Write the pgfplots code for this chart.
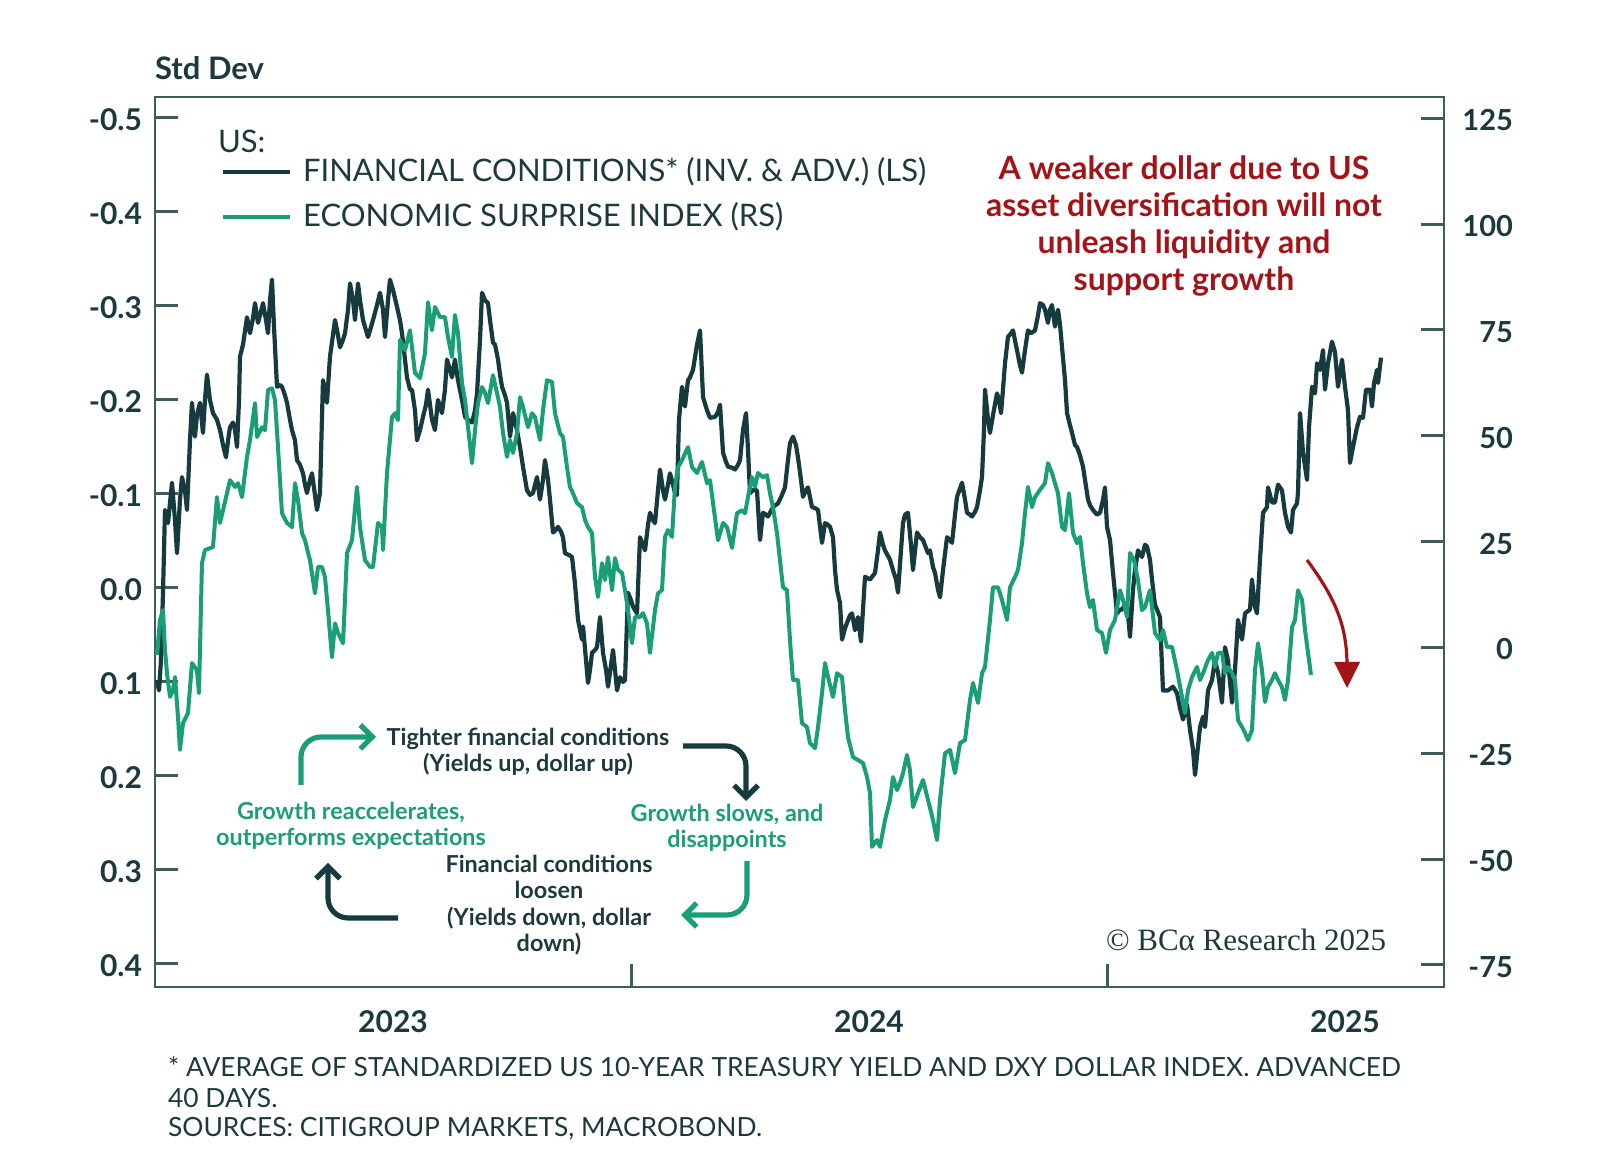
\documentclass[border=0pt]{standalone}
\usepackage{pgfplots}
\pgfplotsset{compat=1.18}
\usepackage{fontspec}
\setmainfont{Lato}
\newfontfamily\copyfont{Liberation Serif}
\usetikzlibrary{arrows.meta}

\definecolor{fcdark}{HTML}{163A3E}
\definecolor{esigreen}{HTML}{1A9E78}
\definecolor{bcared}{HTML}{A31419}
\definecolor{axiscol}{HTML}{3E5C5E}
\definecolor{txtdark}{HTML}{1C3A3D}

\begin{document}
\begin{tikzpicture}
\path[use as bounding box] (0,0) rectangle (800pt,577.5pt);

% left axis: financial conditions (inverted), frame, years
\begin{axis}[
  at={(77.5pt,84pt)}, anchor=south west,
  width=644.5pt, height=445pt, scale only axis,
  xmin=2023, xmax=2025.708,
  y dir=reverse, ymin=-0.5223, ymax=0.4245,
  ytick={-0.5,-0.4,-0.3,-0.2,-0.1,0,0.1,0.2,0.3,0.4},
  yticklabels={-0.5,-0.4,-0.3,-0.2,-0.1,0.0,0.1,0.2,0.3,0.4},
  xtick={2024,2025}, xticklabels={{},{}},
  extra x ticks={2023.5,2024.5,2025.5},
  extra x tick labels={2023,2024,2025},
  extra x tick style={major tick length=0pt},
  ytick pos=left, xtick pos=left, tick align=inside,
  major tick length=11.5pt,
  axis line style={draw=axiscol, line width=1.2pt},
  tick style={draw=axiscol, line width=1.5pt},
  yticklabel style={font=\fontsize{15}{17}\selectfont\bfseries, text=txtdark, xshift=-3pt, yshift=-1pt},
  xticklabel style={font=\fontsize{15}{17}\selectfont\bfseries, text=txtdark, yshift=-8pt},
]
\addplot[fcdark, line width=2.1pt, line join=round] coordinates {
(2023.0042,0.098)(2023.0084,0.109)(2023.0126,0.077)(2023.0168,0.005)(2023.0210,-0.083)(2023.0273,-0.069)(2023.0357,-0.112)(2023.0420,-0.072)(2023.0462,-0.037)(2023.0525,-0.094)(2023.0567,-0.118)(2023.0630,-0.104)(2023.0672,-0.083)(2023.0735,-0.157)(2023.0777,-0.197)(2023.0840,-0.161)(2023.0882,-0.184)(2023.0945,-0.197)(2023.1008,-0.165)(2023.1050,-0.200)(2023.1092,-0.227)(2023.1155,-0.200)(2023.1218,-0.186)(2023.1302,-0.179)(2023.1366,-0.168)(2023.1429,-0.152)(2023.1492,-0.139)(2023.1534,-0.157)(2023.1576,-0.171)(2023.1639,-0.176)(2023.1681,-0.168)(2023.1723,-0.150)(2023.1765,-0.200)(2023.1786,-0.246)(2023.1849,-0.259)(2023.1933,-0.288)(2023.1996,-0.271)(2023.2059,-0.287)(2023.2101,-0.303)(2023.2164,-0.282)(2023.2206,-0.290)(2023.2269,-0.303)(2023.2332,-0.285)(2023.2374,-0.271)(2023.2416,-0.306)(2023.2458,-0.328)(2023.2500,-0.278)(2023.2563,-0.214)(2023.2626,-0.216)(2023.2668,-0.214)(2023.2731,-0.205)(2023.2773,-0.197)(2023.2836,-0.179)(2023.2878,-0.168)(2023.2941,-0.157)(2023.2983,-0.136)(2023.3046,-0.131)(2023.3109,-0.122)(2023.3151,-0.110)(2023.3193,-0.101)(2023.3256,-0.115)(2023.3298,-0.122)(2023.3361,-0.099)(2023.3403,-0.083)(2023.3466,-0.101)(2023.3529,-0.221)(2023.3571,-0.211)(2023.3613,-0.197)(2023.3676,-0.246)(2023.3739,-0.269)(2023.3781,-0.285)(2023.3844,-0.269)(2023.3886,-0.256)(2023.3950,-0.264)(2023.3992,-0.271)(2023.4055,-0.296)(2023.4097,-0.324)(2023.4160,-0.306)(2023.4202,-0.285)(2023.4265,-0.324)(2023.4307,-0.306)(2023.4370,-0.285)(2023.4433,-0.274)(2023.4475,-0.267)(2023.4517,-0.274)(2023.4580,-0.285)(2023.4664,-0.301)(2023.4727,-0.314)(2023.4790,-0.296)(2023.4832,-0.267)(2023.4895,-0.306)(2023.4937,-0.328)(2023.5000,-0.317)(2023.5084,-0.299)(2023.5147,-0.285)(2023.5189,-0.271)(2023.5252,-0.243)(2023.5294,-0.224)(2023.5357,-0.211)(2023.5399,-0.211)(2023.5462,-0.189)(2023.5504,-0.157)(2023.5567,-0.168)(2023.5630,-0.182)(2023.5693,-0.195)(2023.5735,-0.211)(2023.5819,-0.179)(2023.5882,-0.168)(2023.5945,-0.200)(2023.6029,-0.186)(2023.6092,-0.211)(2023.6134,-0.243)(2023.6197,-0.232)(2023.6239,-0.224)(2023.6302,-0.243)(2023.6365,-0.221)(2023.6450,-0.200)(2023.6513,-0.182)(2023.6576,-0.179)(2023.6660,-0.176)(2023.6723,-0.189)(2023.6765,-0.207)(2023.6828,-0.264)(2023.6870,-0.314)(2023.6933,-0.306)(2023.6996,-0.303)(2023.7038,-0.285)(2023.7101,-0.261)(2023.7143,-0.259)(2023.7206,-0.243)(2023.7248,-0.227)(2023.7290,-0.214)(2023.7353,-0.205)(2023.7395,-0.197)(2023.7458,-0.161)(2023.7521,-0.186)(2023.7605,-0.168)(2023.7668,-0.150)(2023.7731,-0.129)(2023.7815,-0.104)(2023.7878,-0.099)(2023.7941,-0.101)(2023.8025,-0.118)(2023.8088,-0.094)(2023.8151,-0.115)(2023.8193,-0.136)(2023.8256,-0.115)(2023.8298,-0.094)(2023.8361,-0.059)(2023.8424,-0.062)(2023.8466,-0.065)(2023.8529,-0.060)(2023.8571,-0.054)(2023.8613,-0.037)(2023.8697,-0.035)(2023.8760,-0.033)(2023.8823,-0.005)(2023.8887,0.034)(2023.8971,0.055)(2023.8992,0.041)(2023.9055,0.077)(2023.9097,0.101)(2023.9139,0.087)(2023.9181,0.069)(2023.9244,0.066)(2023.9286,0.063)(2023.9349,0.031)(2023.9412,0.069)(2023.9475,0.087)(2023.9517,0.105)(2023.9580,0.082)(2023.9622,0.066)(2023.9664,0.087)(2023.9706,0.109)(2023.9769,0.095)(2023.9832,0.100)(2023.9874,0.098)(2023.9937,0.005)(2024.0000,0.013)(2024.0042,0.020)(2024.0126,0.027)(2024.0189,-0.054)(2024.0252,-0.046)(2024.0294,-0.040)(2024.0357,-0.067)(2024.0399,-0.080)(2024.0462,-0.072)(2024.0504,-0.069)(2024.0567,-0.104)(2024.0609,-0.126)(2024.0672,-0.104)(2024.0714,-0.094)(2024.0777,-0.110)(2024.0819,-0.122)(2024.0882,-0.110)(2024.0924,-0.101)(2024.0966,-0.099)(2024.1008,-0.179)(2024.1071,-0.214)(2024.1134,-0.193)(2024.1197,-0.221)(2024.1239,-0.224)(2024.1303,-0.232)(2024.1387,-0.259)(2024.1450,-0.274)(2024.1513,-0.203)(2024.1597,-0.189)(2024.1660,-0.181)(2024.1765,-0.182)(2024.1828,-0.187)(2024.1870,-0.195)(2024.1933,-0.144)(2024.1996,-0.134)(2024.2038,-0.129)(2024.2122,-0.128)(2024.2185,-0.126)(2024.2248,-0.131)(2024.2290,-0.136)(2024.2353,-0.168)(2024.2416,-0.186)(2024.2458,-0.147)(2024.2500,-0.101)(2024.2563,-0.104)(2024.2647,-0.104)(2024.2710,-0.051)(2024.2773,-0.080)(2024.2836,-0.078)(2024.2878,-0.076)(2024.2983,-0.086)(2024.3088,-0.090)(2024.3172,-0.099)(2024.3235,-0.107)(2024.3298,-0.136)(2024.3340,-0.154)(2024.3403,-0.161)(2024.3466,-0.152)(2024.3508,-0.139)(2024.3571,-0.115)(2024.3613,-0.097)(2024.3676,-0.104)(2024.3718,-0.107)(2024.3803,-0.086)(2024.3866,-0.085)(2024.3929,-0.083)(2024.4013,-0.048)(2024.4076,-0.069)(2024.4139,-0.067)(2024.4181,-0.065)(2024.4244,-0.054)(2024.4286,-0.019)(2024.4328,0.002)(2024.4391,0.016)(2024.4433,0.055)(2024.4496,0.043)(2024.4538,0.037)(2024.4601,0.029)(2024.4643,0.027)(2024.4706,0.045)(2024.4769,0.031)(2024.4832,0.057)(2024.4874,0.023)(2024.4916,-0.012)(2024.5021,-0.009)(2024.5126,-0.016)(2024.5189,-0.040)(2024.5231,-0.059)(2024.5294,-0.046)(2024.5336,-0.040)(2024.5441,-0.030)(2024.5504,-0.019)(2024.5567,-0.009)(2024.5609,0.005)(2024.5672,-0.040)(2024.5714,-0.069)(2024.5756,-0.078)(2024.5819,-0.080)(2024.5882,-0.046)(2024.5924,-0.019)(2024.6008,-0.059)(2024.6071,-0.054)(2024.6134,-0.051)(2024.6239,-0.037)(2024.6281,-0.040)(2024.6345,-0.022)(2024.6387,-0.016)(2024.6450,0.002)(2024.6492,0.010)(2024.6555,-0.019)(2024.6639,-0.054)(2024.6702,-0.051)(2024.6744,-0.048)(2024.6807,-0.078)(2024.6849,-0.097)(2024.6912,-0.106)(2024.6954,-0.112)(2024.7017,-0.094)(2024.7059,-0.080)(2024.7122,-0.078)(2024.7164,-0.076)(2024.7227,-0.081)(2024.7269,-0.086)(2024.7332,-0.104)(2024.7374,-0.118)(2024.7416,-0.168)(2024.7437,-0.211)(2024.7500,-0.179)(2024.7542,-0.165)(2024.7605,-0.184)(2024.7689,-0.207)(2024.7731,-0.200)(2024.7773,-0.186)(2024.7815,-0.211)(2024.7857,-0.239)(2024.7920,-0.267)(2024.7983,-0.271)(2024.8025,-0.274)(2024.8109,-0.253)(2024.8172,-0.237)(2024.8214,-0.229)(2024.8277,-0.253)(2024.8340,-0.274)(2024.8403,-0.271)(2024.8487,-0.274)(2024.8550,-0.290)(2024.8592,-0.303)(2024.8655,-0.301)(2024.8697,-0.296)(2024.8760,-0.282)(2024.8802,-0.296)(2024.8844,-0.301)(2024.8907,-0.278)(2024.8970,-0.296)(2024.9013,-0.280)(2024.9055,-0.256)(2024.9118,-0.221)(2024.9160,-0.186)(2024.9223,-0.173)(2024.9265,-0.165)(2024.9328,-0.152)(2024.9370,-0.150)(2024.9433,-0.141)(2024.9496,-0.129)(2024.9538,-0.115)(2024.9601,-0.094)(2024.9643,-0.088)(2024.9706,-0.083)(2024.9790,-0.078)(2024.9853,-0.080)(2024.9916,-0.094)(2024.9958,-0.107)(2025.0000,-0.065)(2025.0063,-0.051)(2025.0126,-0.016)(2025.0210,0.027)(2025.0273,0.023)(2025.0315,0.023)(2025.0378,0.018)(2025.0420,0.016)(2025.0483,0.052)(2025.0546,0.002)(2025.0588,-0.019)(2025.0651,-0.040)(2025.0735,-0.033)(2025.0798,-0.046)(2025.0840,-0.044)(2025.0903,-0.030)(2025.0945,-0.009)(2025.1008,0.018)(2025.1050,0.023)(2025.1113,0.031)(2025.1176,0.109)(2025.1282,0.109)(2025.1387,0.105)(2025.1471,0.112)(2025.1534,0.128)(2025.1597,0.140)(2025.1681,0.124)(2025.1744,0.151)(2025.1807,0.172)(2025.1849,0.199)(2025.1954,0.148)(2025.2017,0.137)(2025.2059,0.148)(2025.2122,0.109)(2025.2206,0.098)(2025.2269,0.077)(2025.2332,0.090)(2025.2416,0.122)(2025.2479,0.063)(2025.2542,0.077)(2025.2626,0.122)(2025.2689,0.087)(2025.2752,0.034)(2025.2836,0.055)(2025.2899,0.027)(2025.3004,0.023)(2025.3046,-0.009)(2025.3109,0.020)(2025.3151,0.027)(2025.3214,-0.030)(2025.3277,-0.080)(2025.3361,-0.086)(2025.3382,-0.107)(2025.3466,-0.091)(2025.3529,-0.091)(2025.3592,-0.110)(2025.3676,-0.104)(2025.3739,-0.080)(2025.3803,-0.065)(2025.3866,-0.059)(2025.3908,-0.083)(2025.3992,-0.090)(2025.4013,-0.102)(2025.4055,-0.186)(2025.4118,-0.144)(2025.4202,-0.115)(2025.4244,-0.171)(2025.4307,-0.214)(2025.4370,-0.207)(2025.4412,-0.239)(2025.4475,-0.232)(2025.4538,-0.253)(2025.4580,-0.211)(2025.4643,-0.239)(2025.4727,-0.262)(2025.4790,-0.251)(2025.4853,-0.214)(2025.4937,-0.243)(2025.5000,-0.214)(2025.5063,-0.189)(2025.5105,-0.133)(2025.5168,-0.150)(2025.5252,-0.171)(2025.5315,-0.182)(2025.5378,-0.181)(2025.5441,-0.211)(2025.5525,-0.211)(2025.5567,-0.193)(2025.5609,-0.218)(2025.5672,-0.232)(2025.5693,-0.218)(2025.5756,-0.245)
};
\end{axis}

% right axis: economic surprise index
\begin{axis}[
  at={(77.5pt,84pt)}, anchor=south west,
  width=644.5pt, height=445pt, scale only axis,
  xmin=2023, xmax=2025.708,
  ymin=-80.2, ymax=130,
  hide x axis, axis y line*=right,
  ytick={-75,-50,-25,0,25,50,75,100,125},
  yticklabels={-75,-50,-25,0,25,50,75,100,125},
  ytick pos=right, tick align=inside,
  major tick length=11.5pt,
  axis line style={draw=axiscol, line width=1.2pt},
  tick style={draw=axiscol, line width=1.5pt},
  yticklabel style={font=\fontsize{14.5}{16}\selectfont\bfseries, text=txtdark, anchor=east, xshift=38pt, yshift=-1pt},
]
\addplot[esigreen, line width=2pt, line join=round] coordinates {
(2023.0042,-1.8)(2023.0105,6.5)(2023.0168,8.8)(2023.0210,-0.6)(2023.0252,-6.1)(2023.0315,-11.7)(2023.0378,-10.1)(2023.0420,-7.0)(2023.0483,-16.4)(2023.0525,-24.2)(2023.0588,-17.9)(2023.0693,-15.5)(2023.0777,-3.7)(2023.0882,-5.4)(2023.0924,-10.8)(2023.0987,19.9)(2023.1050,23.0)(2023.1218,23.7)(2023.1302,35.5)(2023.1366,29.4)(2023.1429,32.4)(2023.1576,39.5)(2023.1681,37.9)(2023.1744,38.8)(2023.1828,35.5)(2023.1933,45.0)(2023.1996,49.0)(2023.2101,57.7)(2023.2143,49.7)(2023.2248,52.0)(2023.2311,51.3)(2023.2374,60.8)(2023.2458,61.2)(2023.2521,58.4)(2023.2584,47.3)(2023.2668,31.7)(2023.2773,29.4)(2023.2878,28.4)(2023.2941,38.8)(2023.3004,34.8)(2023.3088,27.0)(2023.3151,25.3)(2023.3256,20.6)(2023.3361,12.8)(2023.3424,19.0)(2023.3508,19.0)(2023.3571,16.6)(2023.3634,8.8)(2023.3718,-2.3)(2023.3781,5.7)(2023.3844,3.4)(2023.3950,1.0)(2023.4034,22.3)(2023.4139,25.3)(2023.4244,37.9)(2023.4307,28.4)(2023.4412,20.6)(2023.4517,19.0)(2023.4580,19.0)(2023.4685,29.4)(2023.4769,28.4)(2023.4790,23.0)(2023.4874,41.2)(2023.4979,54.4)(2023.5042,55.3)(2023.5105,53.7)(2023.5147,72.6)(2023.5252,70.2)(2023.5357,74.9)(2023.5462,64.8)(2023.5567,63.6)(2023.5672,69.5)(2023.5735,81.5)(2023.5819,74.9)(2023.5882,80.4)(2023.5987,78.0)(2023.6092,78.0)(2023.6155,73.3)(2023.6239,68.6)(2023.6302,78.5)(2023.6365,74.2)(2023.6450,62.4)(2023.6513,58.4)(2023.6576,52.0)(2023.6660,43.5)(2023.6723,51.3)(2023.6786,57.7)(2023.6870,61.5)(2023.6933,60.1)(2023.6996,57.7)(2023.7101,64.3)(2023.7185,60.1)(2023.7248,56.8)(2023.7311,50.6)(2023.7395,45.0)(2023.7458,49.0)(2023.7521,45.9)(2023.7605,50.6)(2023.7668,59.1)(2023.7731,56.8)(2023.7836,52.0)(2023.7920,55.3)(2023.7983,54.4)(2023.8088,49.0)(2023.8151,56.0)(2023.8235,63.1)(2023.8340,62.7)(2023.8403,55.3)(2023.8508,50.6)(2023.8571,49.7)(2023.8655,42.6)(2023.8718,37.9)(2023.8781,36.4)(2023.8865,34.1)(2023.8971,33.1)(2023.9034,30.1)(2023.9097,28.4)(2023.9181,27.0)(2023.9244,16.6)(2023.9307,11.9)(2023.9391,19.9)(2023.9454,15.9)(2023.9517,21.3)(2023.9601,13.5)(2023.9664,21.1)(2023.9727,18.3)(2023.9811,17.6)(2023.9874,13.5)(2023.9937,8.8)(2024.0021,1.0)(2024.0084,7.2)(2024.0189,7.2)(2024.0252,8.1)(2024.0336,5.7)(2024.0399,-1.3)(2024.0504,8.8)(2024.0567,12.8)(2024.0651,13.5)(2024.0714,26.1)(2024.0777,27.7)(2024.0861,26.1)(2024.0924,37.9)(2024.0987,42.6)(2024.1071,44.2)(2024.1197,47.3)(2024.1282,42.6)(2024.1387,41.2)(2024.1492,43.8)(2024.1597,38.8)(2024.1660,39.5)(2024.1723,34.1)(2024.1828,25.3)(2024.1933,29.4)(2024.2017,28.4)(2024.2122,23.5)(2024.2227,31.7)(2024.2332,32.4)(2024.2395,31.7)(2024.2458,35.5)(2024.2542,40.2)(2024.2605,37.9)(2024.2668,41.2)(2024.2773,40.2)(2024.2857,40.7)(2024.2920,36.4)(2024.2983,33.1)(2024.3067,27.0)(2024.3130,20.6)(2024.3193,14.2)(2024.3277,13.5)(2024.3340,1.7)(2024.3403,-7.7)(2024.3508,-7.7)(2024.3592,-17.9)(2024.3697,-18.8)(2024.3760,-22.6)(2024.3866,-23.8)(2024.3929,-18.8)(2024.4013,-10.8)(2024.4076,-3.7)(2024.4139,-7.0)(2024.4244,-11.7)(2024.4328,-6.1)(2024.4433,-7.0)(2024.4496,-14.8)(2024.4559,-21.2)(2024.4664,-25.9)(2024.4769,-26.6)(2024.4874,-27.3)(2024.4958,-30.6)(2024.5021,-34.4)(2024.5063,-47.1)(2024.5168,-45.5)(2024.5231,-47.1)(2024.5336,-40.8)(2024.5441,-36.0)(2024.5504,-30.6)(2024.5588,-33.7)(2024.5651,-32.0)(2024.5714,-29.7)(2024.5798,-25.4)(2024.5861,-29.0)(2024.5924,-37.7)(2024.6029,-34.4)(2024.6134,-31.3)(2024.6239,-36.0)(2024.6345,-40.8)(2024.6429,-45.5)(2024.6492,-36.0)(2024.6597,-25.0)(2024.6702,-24.2)(2024.6807,-29.7)(2024.6912,-22.6)(2024.7017,-21.9)(2024.7122,-12.4)(2024.7185,-8.4)(2024.7290,-13.1)(2024.7374,-6.1)(2024.7437,-4.6)(2024.7542,6.5)(2024.7605,14.2)(2024.7710,14.2)(2024.7794,11.2)(2024.7899,6.5)(2024.7962,14.2)(2024.8067,16.6)(2024.8130,18.3)(2024.8214,24.6)(2024.8277,31.7)(2024.8340,37.9)(2024.8424,33.1)(2024.8487,35.5)(2024.8592,37.2)(2024.8697,38.8)(2024.8760,43.5)(2024.8844,41.2)(2024.8907,38.8)(2024.8970,36.4)(2024.9055,28.4)(2024.9118,27.7)(2024.9202,36.4)(2024.9286,27.0)(2024.9370,24.6)(2024.9433,26.1)(2024.9496,19.9)(2024.9580,12.8)(2024.9643,9.5)(2024.9706,11.2)(2024.9790,4.1)(2024.9895,3.4)(2024.9979,-1.3)(2025.0063,4.1)(2025.0168,6.5)(2025.0273,13.5)(2025.0336,11.2)(2025.0420,7.2)(2025.0483,22.3)(2025.0567,20.6)(2025.0651,15.9)(2025.0735,8.8)(2025.0798,9.5)(2025.0903,13.5)(2025.1008,3.4)(2025.1113,1.7)(2025.1176,4.1)(2025.1261,0.1)(2025.1366,0.1)(2025.1471,-5.4)(2025.1576,-11.7)(2025.1639,-15.5)(2025.1702,-10.1)(2025.1786,-7.0)(2025.1891,-4.6)(2025.1954,-7.7)(2025.2017,-6.1)(2025.2122,-3.0)(2025.2206,-1.3)(2025.2269,-4.6)(2025.2332,-1.3)(2025.2416,-1.3)(2025.2479,-6.1)(2025.2542,-4.6)(2025.2626,-6.1)(2025.2689,-7.7)(2025.2752,-17.2)(2025.2836,-18.8)(2025.2899,-20.2)(2025.2962,-21.9)(2025.3046,-19.5)(2025.3109,-5.4)(2025.3172,1.0)(2025.3256,-5.4)(2025.3319,-12.9)(2025.3382,-9.4)(2025.3466,-7.7)(2025.3529,-6.1)(2025.3592,-7.7)(2025.3676,-9.4)(2025.3739,-12.4)(2025.3803,-7.7)(2025.3887,4.8)(2025.3950,6.5)(2025.4013,13.5)(2025.4097,11.2)(2025.4160,4.1)(2025.4223,-1.3)(2025.4286,-6.5)
};
\end{axis}

% annotations, placed in reference pixel units (y down)
\begin{scope}[shift={(0pt,577.5pt)}, x=0.5pt, y=-0.5pt]
\node[anchor=west, text=txtdark, font=\fontsize{15.5}{17}\selectfont\bfseries] at (148,68) {Std Dev};

% legend
\node[anchor=west, text=txtdark, font=\fontsize{15.5}{17}\selectfont] at (211,141) {US:};
\draw[fcdark, line width=2pt] (223,172) -- (290,172);
\node[anchor=west, text=txtdark, font=\fontsize{15.5}{17}\selectfont] at (296,172) {FINANCIAL CONDITIONS* (INV. \& ADV.) (LS)};
\draw[esigreen, line width=2pt] (223,217) -- (290,217);
\node[anchor=west, text=txtdark, font=\fontsize{15.5}{17}\selectfont] at (296,217) {ECONOMIC SURPRISE INDEX (RS)};

% red comment and arrow
\node[align=center, text=bcared, font=\fontsize{16}{18.4}\selectfont\bfseries] at (1184,226)
  {A weaker dollar due to US\\asset diversification will not\\unleash liquidity and\\support growth};
\draw[bcared, line width=1.6pt] (1307,560) .. controls (1335,598) and (1347,625) .. (1347,666);
\fill[bcared] (1334,662) -- (1360,662) -- (1347,688) -- cycle;

% cycle diagram
\begin{scope}[line width=2.6pt, rounded corners=10pt]
\draw[esigreen, -{Straight Barb[length=6pt,width=12pt]}] (301,785) -- (301,737) -- (376,737);
\draw[fcdark, -{Straight Barb[length=6pt,width=12pt]}] (683,746) -- (746,746) -- (746,801);
\draw[esigreen, -{Straight Barb[length=6pt,width=12pt]}] (747,861) -- (747,915) -- (681,915);
\draw[fcdark, -{Straight Barb[length=6pt,width=12pt]}] (398,918) -- (328,918) -- (328,863);
\end{scope}
\node[align=center, text=txtdark, font=\fontsize{11.7}{13.2}\selectfont\bfseries] at (528,752)
  {Tighter financial conditions\\(Yields up, dollar up)};
\node[align=center, text=esigreen, font=\fontsize{11.7}{13.2}\selectfont\bfseries] at (727,828)
  {Growth slows, and\\disappoints};
\node[align=center, text=txtdark, font=\fontsize{11.7}{13.2}\selectfont\bfseries] at (549,905)
  {Financial conditions\\loosen\\(Yields down, dollar\\down)};
\node[align=center, text=esigreen, font=\fontsize{11.7}{13.2}\selectfont\bfseries] at (351,826)
  {Growth reaccelerates,\\outperforms expectations};

% copyright
\node[text=txtdark, font=\fontsize{15.5}{17}\copyfont] at (1246,940) {© BCα Research 2025};

% footnotes
\node[anchor=west, text=txtdark, font=\fontsize{13.2}{15}\selectfont] at (161,1067)
  {* AVERAGE OF STANDARDIZED US 10-YEAR TREASURY YIELD AND DXY DOLLAR INDEX. ADVANCED};
\node[anchor=west, text=txtdark, font=\fontsize{13.2}{15}\selectfont] at (161,1098) {40 DAYS.};
\node[anchor=west, text=txtdark, font=\fontsize{13.2}{15}\selectfont] at (161,1129) {SOURCES: CITIGROUP MARKETS, MACROBOND.};
\end{scope}
\end{tikzpicture}
\end{document}
